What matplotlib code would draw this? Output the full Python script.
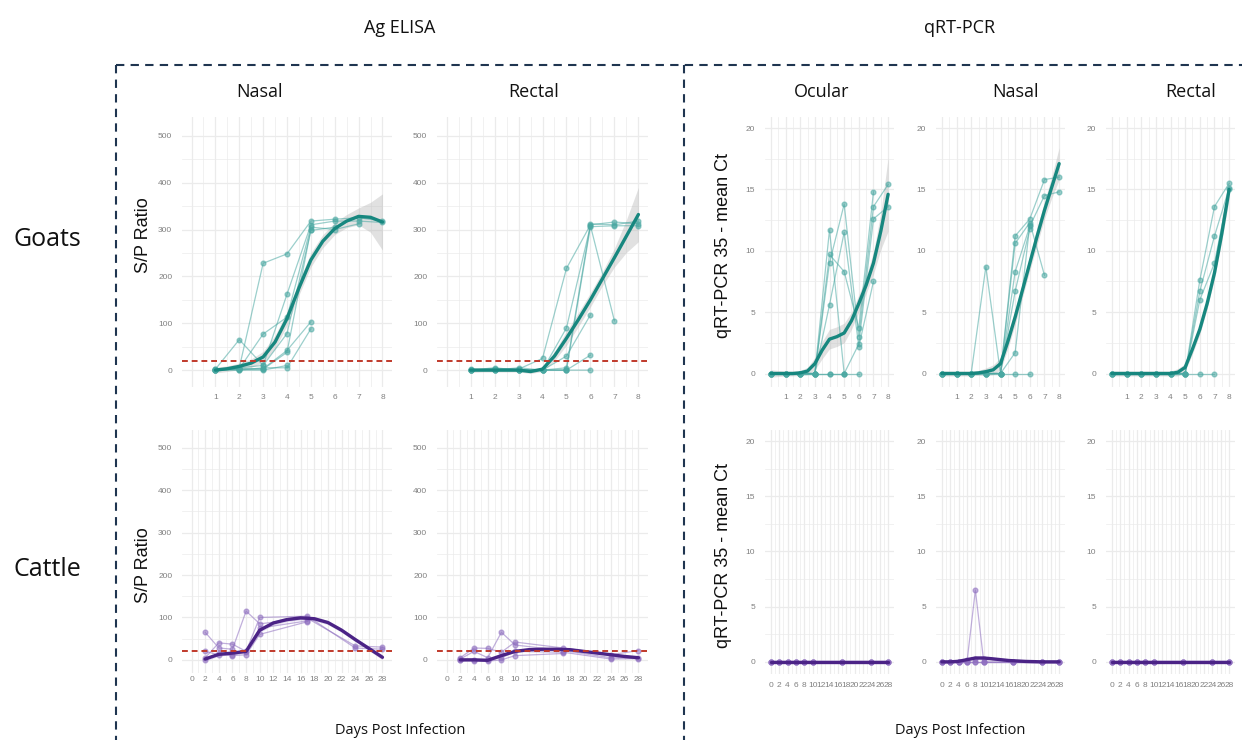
import numpy as np
import matplotlib.pyplot as plt

W, H = 1242, 740
TEAL, TEAL_LT = "#17877F", "#4AA8A2"
PURPLE, PURPLE_LT = "#4B2386", "#8F6FC0"
RED = "#C0392B"
NAVY = "#1F3550"
GRID = "#EBEBEB"
TICKC = "#808080"
HEAD_FONT = ["Open Sans", "DejaVu Sans"]
AX_FONT = ["Liberation Sans", "DejaVu Sans"]
nan = np.nan

# ---- goats, Ag ELISA (S/P ratio) ----
GOAT_ELISA_DAYS = [1, 2, 3, 4, 5, 6, 7, 8]
GOAT_ELISA_NASAL = [
    [0, 5, 228, 248, 318, 322, 325, 318],
    [2, 65, 10, 162, 310, 318, 318, 315],
    [0, 3, 77, 113, 305, 300, 312, nan],
    [1, 5, 10, 78, 298, 305, nan, nan],
    [0, 2, 3, 42, 103, nan, nan, nan],
    [3, 0, 5, 5, 88, nan, nan, nan],
    [0, 3, 2, 38, 300, nan, nan, nan],
    [0, 0, 0, 10, nan, nan, nan, nan],
]
GOAT_ELISA_RECTAL = [
    [0, 3, 2, 25, 217, 310, 316, 312],
    [2, 0, 5, 0, 90, 308, 105, nan],
    [0, 5, 0, 0, 5, 312, 310, 318],
    [1, 0, 0, 0, 0, 306, 308, 308],
    [0, 0, 0, 0, 30, 118, nan, nan],
    [0, 0, 0, 0, 0, 32, nan, nan],
    [0, 2, 0, 0, 0, 0, nan, nan],
]
GOAT_ELISA_FIT_X = [1, 1.5, 2, 2.5, 3, 3.5, 4, 4.5, 5, 5.5, 6, 6.5, 7, 7.5, 8]
GOAT_ELISA_NASAL_FIT = [0, 3, 8, 15, 28, 60, 110, 175, 235, 275, 302, 318, 328, 326, 316]
GOAT_ELISA_NASAL_SE = [6, 6, 7, 9, 12, 14, 15, 15, 15, 14, 13, 14, 18, 32, 60]
GOAT_ELISA_RECTAL_FIT = [0, 0, 0, 0, 0, -3, 2, 30, 68, 108, 150, 195, 240, 286, 332]
GOAT_ELISA_RECTAL_SE = [5, 4, 4, 4, 4, 4, 5, 10, 15, 15, 15, 15, 20, 35, 58]

# ---- goats, qRT-PCR (35 - mean Ct) ----
GOAT_PCR_DAYS = [0, 1, 2, 3, 4, 5, 6, 7, 8]
GOAT_PCR_OCULAR = [
    [0, 0, 0, 0, 9.0, 13.8, 3.0, 13.6, 15.4],
    [0, 0, 0, 0, 11.7, 0, 2.4, 12.6, 13.6],
    [0, 0, 0, 0, 9.7, 8.3, 3.7, 14.8, nan],
    [0, 0, 0, 0, 5.6, 11.5, 2.2, 7.5, nan],
    [0, 0, 0, 0, 0, 0, 0, nan, nan],
    [0, 0, 0, 0, 0, 0, nan, nan, nan],
]
GOAT_PCR_NASAL = [
    [0, 0, 0, 8.7, 0, 11.2, 12.6, 15.8, 16.0],
    [0, 0, 0, 0, 0, 10.6, 12.3, 8.0, nan],
    [0, 0, 0, 0, 0, 8.3, 12.0, 14.5, 14.8],
    [0, 0, 0, 0, 0, 6.7, 11.8, nan, nan],
    [0, 0, 0, 0, 0, 1.7, 12.1, nan, nan],
    [0, 0, 0, 0, 0, 0, 0, nan, nan],
]
GOAT_PCR_RECTAL = [
    [0, 0, 0, 0, 0, 0, 7.6, 13.6, 15.5],
    [0, 0, 0, 0, 0, 0, 6.7, 11.2, 15.1],
    [0, 0, 0, 0, 0, 0, 6.0, 9.0, 15.0],
    [0, 0, 0, 0, 0, 0, 0, 0, nan],
    [0, 0, 0, 0, 0, 0, nan, nan, nan],
]
GOAT_PCR_FIT_X = [0, 0.5, 1, 1.5, 2, 2.5, 3, 3.5, 4, 4.5, 5, 5.5, 6, 6.5, 7, 7.5, 8]
GOAT_PCR_OCULAR_FIT = [0, 0, 0, 0, 0.05, 0.2, 0.8, 1.9, 2.8, 3.0, 3.3, 4.3, 5.7, 7.2, 9.0, 11.6, 14.6]
GOAT_PCR_OCULAR_SE = [0.3, 0.25, 0.2, 0.2, 0.2, 0.3, 0.5, 0.7, 0.8, 0.8, 0.8, 0.7, 0.7, 0.7, 0.9, 1.5, 3.0]
GOAT_PCR_NASAL_FIT = [0, 0, 0, 0, 0, 0.05, 0.15, 0.3, 0.8, 2.6, 4.6, 6.8, 9.0, 11.2, 13.3, 15.2, 17.1]
GOAT_PCR_NASAL_SE = [0.2, 0.2, 0.2, 0.2, 0.2, 0.2, 0.3, 0.4, 0.5, 0.6, 0.6, 0.6, 0.6, 0.7, 0.7, 0.9, 1.3]
GOAT_PCR_RECTAL_FIT = [0, 0, 0, 0, 0, 0, 0, 0, 0, 0.1, 0.5, 2.0, 3.6, 5.7, 8.2, 11.4, 15.0]
GOAT_PCR_RECTAL_SE = [0.2, 0.2, 0.2, 0.2, 0.2, 0.2, 0.2, 0.2, 0.2, 0.3, 0.3, 0.4, 0.4, 0.4, 0.5, 0.6, 0.8]

# ---- cattle, Ag ELISA ----
CATTLE_ELISA_DAYS = [2, 4, 6, 8, 10, 17, 24, 28]
CATTLE_ELISA_NASAL = [
    [65, 28, 25, 115, 85, 98, 33, 30],
    [5, 40, 37, 20, 100, 103, 28, 25],
    [0, 15, 12, 18, 75, 92, nan, nan],
    [20, 12, 10, 12, 60, 90, nan, nan],
]
CATTLE_ELISA_RECTAL = [
    [5, 28, 27, 18, 42, 28, 12, 22],
    [2, 20, 5, 65, 35, 22, 5, 5],
    [0, 0, 0, 5, 20, 18, 2, 3],
    [0, -2, -3, 0, 10, 15, nan, nan],
]
CATTLE_ELISA_FIT_X = [2, 4, 6, 8, 10, 12, 14, 16, 18, 20, 22, 24, 26, 28]
CATTLE_ELISA_NASAL_FIT = [2, 13, 16, 20, 70, 87, 95, 99, 97, 88, 70, 48, 27, 6]
CATTLE_ELISA_NASAL_SE = [5, 4, 4, 4, 5, 5, 5, 5, 5, 5, 5, 5, 5, 6]
CATTLE_ELISA_RECTAL_FIT = [0, 0, -1, 10, 20, 24, 25, 25, 24, 20, 16, 12, 8, 5]
CATTLE_ELISA_RECTAL_SE = [4, 3, 3, 3, 3, 3, 3, 3, 3, 3, 3, 3, 3, 4]

# ---- cattle, qRT-PCR ----
CATTLE_PCR_DAYS = [0, 2, 4, 6, 8, 10, 17, 24, 28]
CATTLE_PCR_OCULAR = [[0] * 9, [0] * 9, [0] * 9, [0] * 9]
CATTLE_PCR_NASAL = [
    [0, 0, 0, 0, 6.5, 0, 0, 0, 0],
    [0, 0, 0, 0.2, 0.3, 0.3, 0, 0, 0],
    [0, 0, 0, 0, 0, 0, 0, 0, 0],
    [0, 0, 0, 0, 0, 0, 0, 0, 0],
]
CATTLE_PCR_RECTAL = [[0] * 9, [0] * 9, [0] * 9, [0] * 9]
CATTLE_PCR_FIT_X = [0, 2, 4, 6, 8, 10, 12, 14, 16, 18, 20, 22, 24, 26, 28]
CATTLE_PCR_OCULAR_FIT = [0] * 15
CATTLE_PCR_NASAL_FIT = [0, 0, 0.05, 0.2, 0.35, 0.35, 0.28, 0.2, 0.12, 0.08, 0.04, 0.02, 0, 0, 0]
CATTLE_PCR_RECTAL_FIT = [0] * 15
CATTLE_PCR_SE = [0.15] * 15

CUTOFF = 20


def rect(x0, y0, x1, y1):
    return [x0 / W, 1 - y1 / H, (x1 - x0) / W, (y1 - y0) / H]


def panel(fig, box, days, series, fx, fy, fse, col, col_lt, rib, xlim, ylim,
          xmaj, xlabels, xminor, ymaj, yminor, xpad, cutoff=False):
    ax = fig.add_axes(rect(*box))
    for v in xmaj:
        ax.axvline(v, color=GRID, lw=0.9, zorder=0)
    for v in xminor:
        ax.axvline(v, color=GRID, lw=0.5, zorder=0)
    for v in ymaj:
        ax.axhline(v, color=GRID, lw=0.9, zorder=0)
    for v in yminor:
        ax.axhline(v, color=GRID, lw=0.5, zorder=0)
    for s in series:
        ax.plot(days, s, color=col_lt, lw=0.9, alpha=0.55, marker="o",
                markersize=3.4, zorder=2)
    fy = np.array(fy, float)
    fse = np.array(fse, float)
    ax.fill_between(fx, fy - fse, fy + fse, color=rib, alpha=0.4,
                    lw=0, zorder=1)
    ax.plot(fx, fy, color=col, lw=2.4, zorder=3, solid_capstyle="round")
    if cutoff:
        ax.axhline(CUTOFF, color=RED, lw=1.4, ls=(0, (3, 2)), zorder=4)
    ax.set_xlim(*xlim)
    ax.set_ylim(*ylim)
    ax.set_xticks(xmaj)
    ax.set_xticklabels(xlabels)
    ax.set_yticks(ymaj)
    ax.tick_params(length=0, labelsize=6, labelcolor=TICKC)
    ax.tick_params(axis="x", pad=xpad)
    ax.tick_params(axis="y", pad=7)
    for lab in ax.get_xticklabels() + ax.get_yticklabels():
        lab.set_family(AX_FONT)
    for sp in ax.spines.values():
        sp.set_visible(False)
    ax.set_facecolor("none")
    return ax


fig = plt.figure(figsize=(W / 100, H / 100), dpi=100)

g_elisa_x = list(range(0, 9))
g_elisa_lab = [""] + [str(d) for d in range(1, 9)]
g_half = [d + 0.5 for d in range(-1, 9)]
c_x = list(range(0, 29, 2))
c_lab = [str(d) for d in c_x]
c_minor = list(range(1, 29, 2))
sp_maj = [0, 100, 200, 300, 400, 500]
sp_min = [50, 150, 250, 350, 450]
ct_maj = [0, 5, 10, 15, 20]
ct_min = [2.5, 7.5, 12.5, 17.5]
GREY_RIB, PURP_RIB = "#B5B5B5", "#B9A6D8"

# goats row
panel(fig, (182, 117, 392, 387), GOAT_ELISA_DAYS, GOAT_ELISA_NASAL,
      GOAT_ELISA_FIT_X, GOAT_ELISA_NASAL_FIT, GOAT_ELISA_NASAL_SE, TEAL, TEAL_LT, GREY_RIB,
      (-0.4, 8.4), (-36, 540), g_elisa_x, g_elisa_lab, g_half, sp_maj, sp_min, 5, True)
panel(fig, (437, 117, 648, 387), GOAT_ELISA_DAYS, GOAT_ELISA_RECTAL,
      GOAT_ELISA_FIT_X, GOAT_ELISA_RECTAL_FIT, GOAT_ELISA_RECTAL_SE, TEAL, TEAL_LT, GREY_RIB,
      (-0.4, 8.4), (-36, 540), g_elisa_x, g_elisa_lab, g_half, sp_maj, sp_min, 5, True)
for x0, data, fit, se in [(765, GOAT_PCR_OCULAR, GOAT_PCR_OCULAR_FIT, GOAT_PCR_OCULAR_SE),
                          (936, GOAT_PCR_NASAL, GOAT_PCR_NASAL_FIT, GOAT_PCR_NASAL_SE),
                          (1106, GOAT_PCR_RECTAL, GOAT_PCR_RECTAL_FIT, GOAT_PCR_RECTAL_SE)]:
    panel(fig, (x0, 117, x0 + 129, 387), GOAT_PCR_DAYS, data, GOAT_PCR_FIT_X, fit, se,
          TEAL, TEAL_LT, GREY_RIB, (-0.4, 8.4), (-1.1, 20.9), g_elisa_x, g_elisa_lab,
          g_half, ct_maj, ct_min, 5)

# cattle row
panel(fig, (182, 430, 392, 673), CATTLE_ELISA_DAYS, CATTLE_ELISA_NASAL,
      CATTLE_ELISA_FIT_X, CATTLE_ELISA_NASAL_FIT, CATTLE_ELISA_NASAL_SE, PURPLE, PURPLE_LT,
      PURP_RIB, (-1.4, 29.4), (-31, 542), c_x, c_lab, c_minor, sp_maj, sp_min, 2, True)
panel(fig, (437, 430, 648, 673), CATTLE_ELISA_DAYS, CATTLE_ELISA_RECTAL,
      CATTLE_ELISA_FIT_X, CATTLE_ELISA_RECTAL_FIT, CATTLE_ELISA_RECTAL_SE, PURPLE, PURPLE_LT,
      PURP_RIB, (-1.4, 29.4), (-31, 542), c_x, c_lab, c_minor, sp_maj, sp_min, 2, True)
for x0, data, fit in [(765, CATTLE_PCR_OCULAR, CATTLE_PCR_OCULAR_FIT),
                      (936, CATTLE_PCR_NASAL, CATTLE_PCR_NASAL_FIT),
                      (1106, CATTLE_PCR_RECTAL, CATTLE_PCR_RECTAL_FIT)]:
    panel(fig, (x0, 430, x0 + 129, 674), CATTLE_PCR_DAYS, data, CATTLE_PCR_FIT_X, fit,
          CATTLE_PCR_SE, PURPLE, PURPLE_LT, PURP_RIB, (-1.4, 29.4), (-1.1, 21), c_x, c_lab,
          c_minor, ct_maj, ct_min, 6)


def ftext(x, y, s, size, rot=0, fam=HEAD_FONT, color="#111111"):
    fig.text(x / W, 1 - y / H, s, fontsize=size, rotation=rot, ha="center",
             va="center", family=fam, color=color)


ftext(400, 28, "Ag ELISA", 13)
ftext(960, 28, "qRT-PCR", 13)
for x, s in [(260, "Nasal"), (534, "Rectal"), (822, "Ocular"), (1015, "Nasal"), (1191, "Rectal")]:
    ftext(x, 92, s, 13)
ftext(47, 240, "Goats", 18)
ftext(47, 570, "Cattle", 18)
ftext(400, 730, "Days Post Infection", 10.5)
ftext(960, 730, "Days Post Infection", 10.5)
ftext(143, 235, "S/P Ratio", 13, 90, AX_FONT)
ftext(143, 565, "S/P Ratio", 13, 90, AX_FONT)
ftext(723, 245, "qRT-PCR 35 - mean Ct", 13, 90, AX_FONT)
ftext(723, 555, "qRT-PCR 35 - mean Ct", 13, 90, AX_FONT)

# dashed frame
dash = dict(color=NAVY, lw=1.5, ls=(0, (4, 3)), transform=fig.transFigure)
fig.lines.append(plt.Line2D([116 / W, 1], [1 - 65 / H] * 2, **dash))
fig.lines.append(plt.Line2D([116 / W] * 2, [1 - 65 / H, 0], **dash))
fig.lines.append(plt.Line2D([684 / W] * 2, [1 - 65 / H, 0], **dash))

fig.savefig("out.png", dpi=100)
